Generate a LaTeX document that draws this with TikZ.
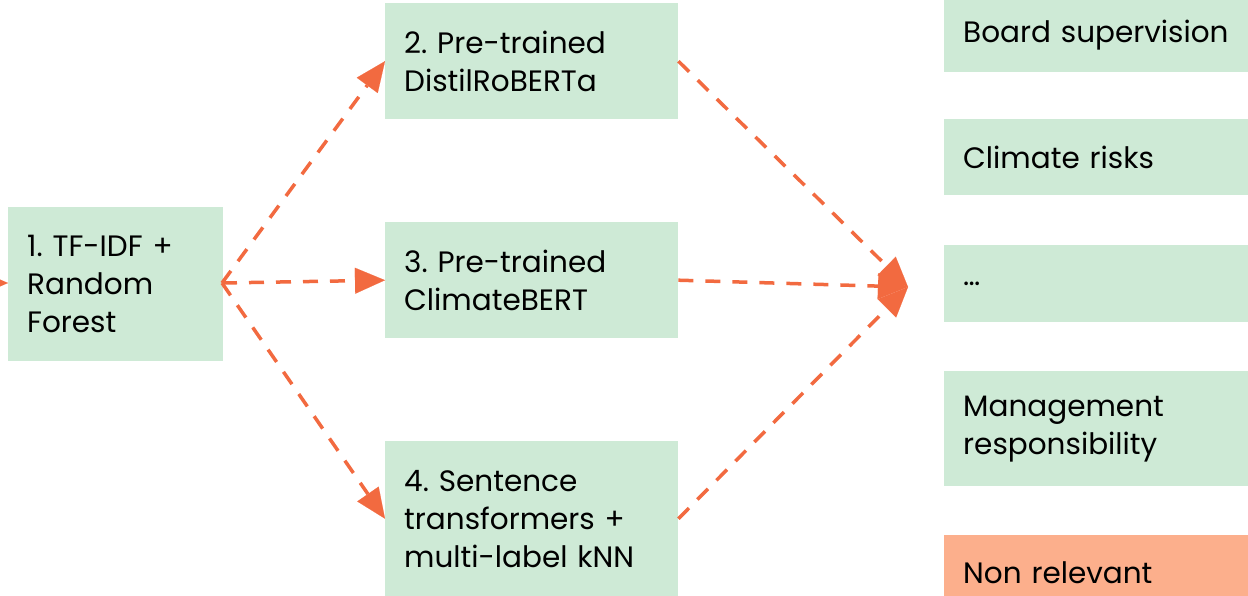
\documentclass[tikz,border=0pt]{standalone}
\usepackage{fontspec}
\setmainfont{Poppins}
\frenchspacing
\usetikzlibrary{arrows.meta}
\definecolor{boxgreen}{HTML}{CEEAD6}
\definecolor{boxorange}{HTML}{FCAF8C}
\definecolor{flow}{HTML}{F26A40}
\tikzset{
  x=1pt, y=-1pt,
  box/.style={fill=boxgreen, draw=none, anchor=north west, inner xsep=19pt, inner ysep=0pt,
    align=left, font=\fontsize{29.5}{38}\selectfont},
  flowline/.style={draw=flow, line width=3.5pt, dash pattern=on 15pt off 12pt,
    -{Triangle[length=30pt,width=26pt,line width=0.1pt]}},
}
\begin{document}
\begin{tikzpicture}
\useasboundingbox (0,0) rectangle (1248,596);
% models
\node[box, text width=177, minimum width=215, minimum height=154] (m1) at (8,207) {1. TF-IDF +\\Random\\Forest};
\node[box, text width=255, minimum width=293, minimum height=116] (m2) at (385,3) {2. Pre-trained\\DistilRoBERTa};
\node[box, text width=255, minimum width=293, minimum height=116] (m3) at (385,222) {3. Pre-trained\\ClimateBERT};
\node[box, text width=255, minimum width=293, minimum height=155] (m4) at (385,441) {4. Sentence\\transformers +\\multi-label kNN};
% labels
\node[box, text width=272, minimum width=310, minimum height=74] (l1) at (944,-2) {Board supervision};
\node[box, text width=272, minimum width=310, minimum height=76] (l2) at (944,119) {Climate risks};
\node[box, text width=272, minimum width=310, minimum height=77] (l3) at (944,245) {\dots};
\node[box, text width=272, minimum width=310, minimum height=115] (l4) at (944,371) {Management\\responsibility};
\node[box, fill=boxorange, text width=272, minimum width=310, minimum height=76] (l5) at (944,535) {Non relevant};
% flow
\coordinate (in) at (-30,283);
\coordinate (src) at (222,283);
\coordinate (sink) at (908,287);
\draw[flowline] (in) -- (m1.west |- src);
\draw[flowline] (src) -- (m2.west);
\draw[flowline] (src) -- (m3.west);
\draw[flowline] (src) -- (m4.west);
\draw[flowline] (m2.east) -- (sink);
\draw[flowline] (m3.east) -- (sink);
\draw[flowline] (m4.east) -- (sink);
\end{tikzpicture}
\end{document}
